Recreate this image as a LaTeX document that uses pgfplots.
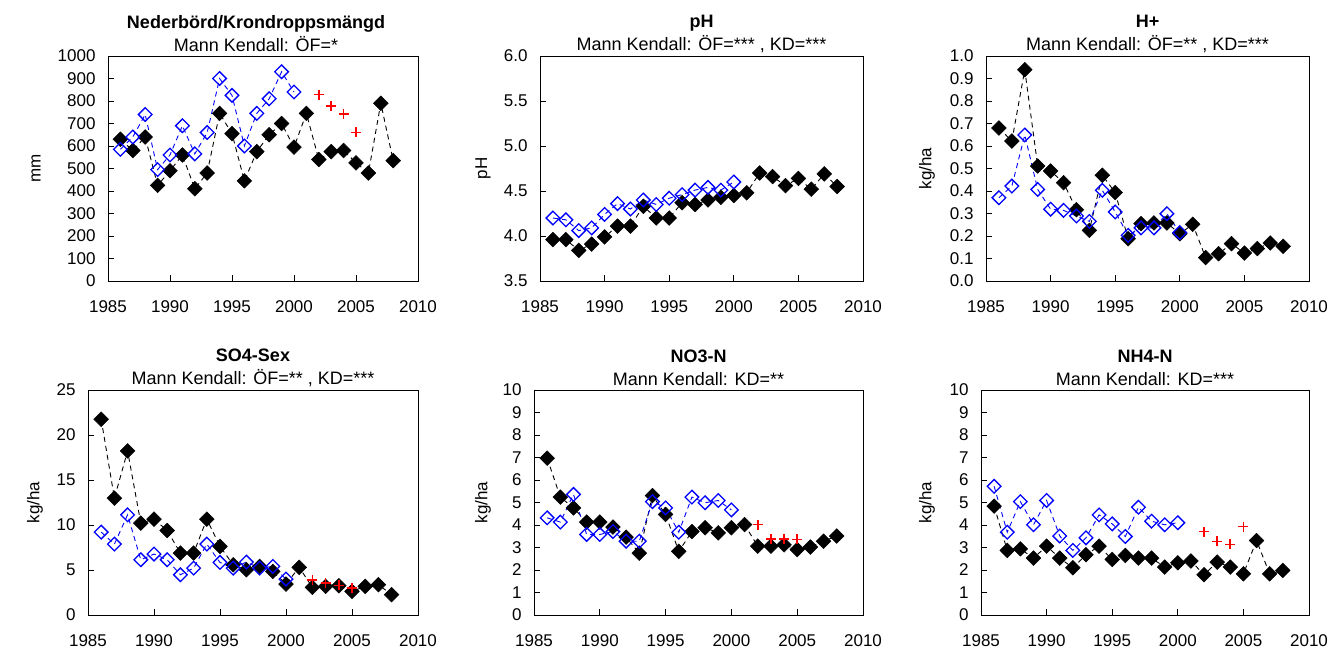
\documentclass[border=0pt]{standalone}
\usepackage{fontspec}
\setmainfont{Liberation Sans}
\usepackage{pgfplots}
\usepackage{pgfplotstable}
\pgfplotsset{compat=1.18}

% year, throughfall (kd), open field (of), extra open-field values (ex)
\pgfplotstableread{
year kd of ex
1986 630 585 nan
1987 580 640 nan
1988 640 740 nan
1989 425 495 nan
1990 490 560 nan
1991 560 690 nan
1992 410 565 nan
1993 480 660 nan
1994 745 900 nan
1995 655 825 nan
1996 445 600 nan
1997 575 745 nan
1998 650 810 nan
1999 700 930 nan
2000 595 840 nan
2001 745 nan nan
2002 540 nan 828
2003 575 nan 778
2004 580 nan 741
2005 525 nan 660
2006 480 nan nan
2007 790 nan nan
2008 535 nan nan
}\nbtab

\pgfplotstableread{
year kd of ex
1986 3.96 4.20 nan
1987 3.96 4.18 nan
1988 3.84 4.06 nan
1989 3.91 4.09 nan
1990 3.99 4.24 nan
1991 4.11 4.36 nan
1992 4.11 4.30 nan
1993 4.33 4.40 nan
1994 4.20 4.35 nan
1995 4.20 4.42 nan
1996 4.37 4.46 nan
1997 4.35 4.51 nan
1998 4.40 4.54 nan
1999 4.43 4.51 nan
2000 4.45 4.60 nan
2001 4.48 nan nan
2002 4.70 nan nan
2003 4.66 nan nan
2004 4.56 nan nan
2005 4.64 nan nan
2006 4.52 nan nan
2007 4.69 nan nan
2008 4.55 nan nan
}\phtab

\pgfplotstableread{
year kd of ex
1986 0.680 0.370 nan
1987 0.622 0.422 nan
1988 0.939 0.649 nan
1989 0.511 0.407 nan
1990 0.489 0.319 nan
1991 0.437 0.314 nan
1992 0.317 0.289 nan
1993 0.225 0.265 nan
1994 0.470 0.403 nan
1995 0.393 0.307 nan
1996 0.188 0.203 nan
1997 0.255 0.236 nan
1998 0.258 0.236 nan
1999 0.258 0.299 nan
2000 0.210 0.215 nan
2001 0.252 nan nan
2002 0.104 nan nan
2003 0.121 nan nan
2004 0.166 nan nan
2005 0.124 nan nan
2006 0.144 nan nan
2007 0.169 nan nan
2008 0.154 nan nan
}\htab

\pgfplotstableread{
year kd of ex
1986 21.75 9.21 nan
1987 12.98 7.88 nan
1988 18.23 11.13 nan
1989 10.21 6.14 nan
1990 10.65 6.77 nan
1991 9.39 6.14 nan
1992 6.88 4.47 nan
1993 6.88 5.21 nan
1994 10.65 7.88 nan
1995 7.62 5.84 nan
1996 5.58 5.21 nan
1997 5.03 5.88 nan
1998 5.40 5.21 nan
1999 4.84 5.40 nan
2000 3.44 3.99 nan
2001 5.29 nan nan
2002 3.07 nan 3.92
2003 3.18 nan 3.55
2004 3.25 nan 3.29
2005 2.63 nan 3.00
2006 3.18 nan nan
2007 3.37 nan nan
2008 2.26 nan nan
}\sotab

\pgfplotstableread{
year kd of ex
1986 6.97 4.32 nan
1987 5.24 4.13 nan
1988 4.76 5.36 nan
1989 4.13 3.58 nan
1990 4.13 3.58 nan
1991 3.91 3.71 nan
1992 3.46 3.28 nan
1993 2.75 3.28 nan
1994 5.31 5.04 nan
1995 4.47 4.76 nan
1996 2.83 3.68 nan
1997 3.71 5.24 nan
1998 3.88 4.99 nan
1999 3.65 5.09 nan
2000 3.88 4.67 nan
2001 4.02 nan nan
2002 3.06 nan 4.02
2003 3.06 nan 3.39
2004 3.12 nan 3.39
2005 2.91 nan 3.36
2006 3.02 nan nan
2007 3.28 nan nan
2008 3.51 nan nan
}\notab

\pgfplotstableread{
year kd of ex
1986 4.84 5.72 nan
1987 2.87 3.68 nan
1988 2.94 5.04 nan
1989 2.53 4.01 nan
1990 3.06 5.09 nan
1991 2.53 3.51 nan
1992 2.10 2.87 nan
1993 2.68 3.43 nan
1994 3.06 4.45 nan
1995 2.47 4.05 nan
1996 2.65 3.49 nan
1997 2.53 4.79 nan
1998 2.53 4.17 nan
1999 2.13 4.01 nan
2000 2.32 4.10 nan
2001 2.40 nan nan
2002 1.79 nan 3.71
2003 2.35 nan 3.27
2004 2.13 nan 3.14
2005 1.83 nan 3.93
2006 3.31 nan nan
2007 1.83 nan nan
2008 1.98 nan nan
}\nhtab

\pgfplotsset{
  panel/.style={
    scale only axis, height=225pt, anchor=south west,
    xmin=1985, xmax=2010, xtick={1985,1990,...,2010},
    axis line style={line width=0.9pt},
    tick align=inside, xtick pos=left, ytick pos=left,
    major tick length=6pt, tick style={line width=0.9pt, black},
    ticklabel style={font=\fontsize{17}{20}\selectfont},
    xticklabel style={yshift=-16.5pt},
    yticklabel style={xshift=-9pt},
    /pgf/number format/assume math mode=true,
    /pgf/number format/1000 sep={},
    label style={font=\fontsize{17}{20}\selectfont},
    title style={font=\fontsize{18}{23}\selectfont, align=center,
      at={(axis description cs:0.5,1)}, anchor=center, yshift=16.5pt},
  },
  ylab/.style={ylabel style={at={(axis description cs:#1,0.5)}, anchor=center}},
  onedec/.style={yticklabel style={/pgf/number format/.cd, fixed, fixed zerofill, precision=1}},
  kdline/.style={black, line width=0.9pt, dash pattern=on 5pt off 4pt,
    mark=square*, mark size=5.2pt,
    mark options={rotate=45, solid, fill=black, line width=0.5pt}},
  ofline/.style={blue, line width=0.9pt, dash pattern=on 5pt off 4pt,
    mark=square, mark size=4.8pt,
    mark options={rotate=45, solid, line width=1.3pt}},
  exmark/.style={red, only marks, mark=+, mark size=5pt,
    mark options={line width=1.6pt}},
}

\newcommand{\panelplots}[1]{%
  \addplot[kdline] table[x=year, y=kd] {#1};
  \addplot[ofline] table[x=year, y=of] {#1};
  \addplot[exmark] table[x=year, y=ex] {#1};
}

\begin{document}
\begin{tikzpicture}[x=1pt, y=1pt]
\useasboundingbox (0,0) rectangle (1332,649);

% Nederbörd
\begin{axis}[panel, at={(108pt,368pt)}, width=310pt,
  ymin=0, ymax=1000, ytick={0,100,...,1000},
  ylabel={mm}, ylab=-0.232,
  title style={xshift=-7pt},
  title={\textbf{Nederbörd/Krondroppsmängd}\\Mann Kendall: ÖF=*}]
\panelplots{\nbtab}
\end{axis}

% pH
\begin{axis}[panel, at={(540pt,368pt)}, width=323pt,
  ymin=3.5, ymax=6.0, ytick={3.5,4.0,...,6.0}, onedec,
  ylabel={pH}, ylab=-0.176,
  title={\textbf{pH}\\Mann Kendall: ÖF=*** , KD=***}]
\panelplots{\phtab}
\end{axis}

% H+
\begin{axis}[panel, at={(986pt,368pt)}, width=323pt,
  ymin=0, ymax=1.0, ytick={0,0.1,...,1.0}, onedec,
  ylabel={kg/ha}, ylab=-0.183,
  title={\textbf{H+}\\Mann Kendall: ÖF=** , KD=***}]
\panelplots{\htab}
\end{axis}

% SO4-S ex
\begin{axis}[panel, at={(88pt,34pt)}, width=330pt,
  ymin=0, ymax=25, ytick={0,5,...,25},
  ylabel={kg/ha}, ylab=-0.161,
  title={\textbf{SO4-Sex}\\Mann Kendall: ÖF=** , KD=***}]
\panelplots{\sotab}
\end{axis}

% NO3-N
\begin{axis}[panel, at={(534pt,34pt)}, width=329pt,
  ymin=0, ymax=10, ytick={0,1,...,10},
  ylabel={kg/ha}, ylab=-0.155,
  title={\textbf{NO3-N}\\Mann Kendall: KD=**}]
\panelplots{\notab}
\end{axis}

% NH4-N
\begin{axis}[panel, at={(981pt,34pt)}, width=328pt,
  ymin=0, ymax=10, ytick={0,1,...,10},
  ylabel={kg/ha}, ylab=-0.165,
  title={\textbf{NH4-N}\\Mann Kendall: KD=***}]
\panelplots{\nhtab}
\end{axis}
\end{tikzpicture}
\end{document}
